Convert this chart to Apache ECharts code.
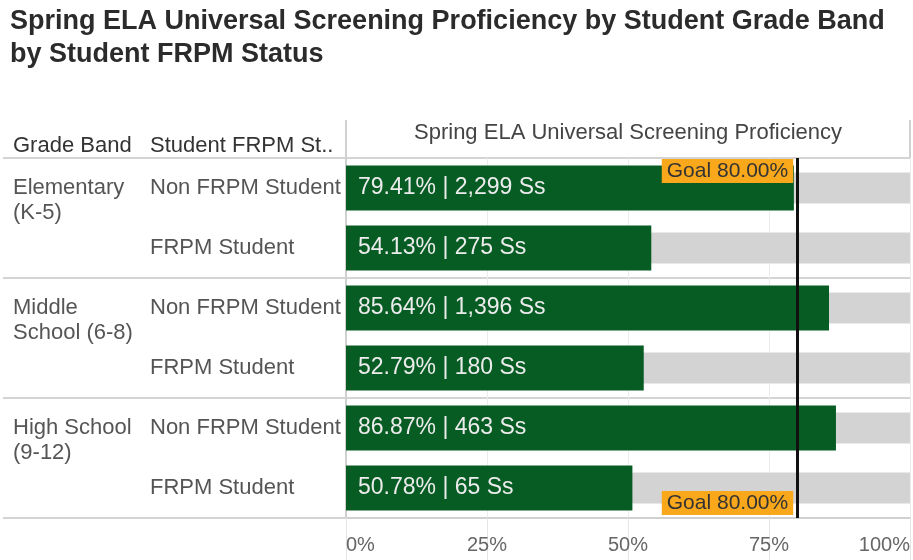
<!DOCTYPE html>
<html>
<head>
<meta charset="utf-8">
<script src="https://cdn.jsdelivr.net/npm/echarts@6/dist/echarts.min.js"></script>
<style>
  html, body { margin: 0; padding: 0; background: #fff; }
  #main { width: 913px; height: 560px; }
</style>
</head>
<body>
<div id="main"></div>
<script>
// data
var gradeBands = ['Elementary\n(K-5)', 'Middle\nSchool (6-8)', 'High School\n(9-12)'];
var rowStatus = ['Non FRPM Student', 'FRPM Student', 'Non FRPM Student', 'FRPM Student', 'Non FRPM Student', 'FRPM Student'];
var proficiency = [79.41, 54.13, 85.64, 52.79, 86.87, 50.78];
var studentCounts = [2299, 275, 1396, 180, 463, 65];
var trackMax = [100, 100, 100, 100, 100, 100];
var goal = 80;
var xTicks = [0, 25, 50, 75, 100];

var rowKeys = rowStatus.map(function (s, i) { return 'r' + i; });
var font = "'Liberation Sans', Arial, sans-serif";

var myChart = echarts.init(document.getElementById('main'));
myChart.setOption({
    animation: false,
    textStyle: { fontFamily: font },
    title: [
        {
            text: 'Spring ELA Universal Screening Proficiency by Student Grade Band\nby Student FRPM Status',
            left: 10, top: 5, padding: 0,
            textStyle: { fontSize: 27, fontWeight: 'bold', color: '#2b2b2b', lineHeight: 33, fontFamily: font }
        },
        {
            text: 'Grade Band', left: 13, top: 134, padding: 0,
            textStyle: { fontSize: 22, fontWeight: 'normal', color: '#333', lineHeight: 24, fontFamily: font }
        },
        {
            text: 'Student FRPM St..', left: 150, top: 134, padding: 0,
            textStyle: { fontSize: 22, fontWeight: 'normal', color: '#333', lineHeight: 24, fontFamily: font }
        }
    ],
    grid: { left: 346, right: 3, top: 158, bottom: 42, containLabel: false, outerBoundsMode: 'none' },
    xAxis: [
        {
            type: 'value', position: 'bottom', min: xTicks[0], max: xTicks[xTicks.length - 1], interval: 25,
            axisLine: { show: true, lineStyle: { color: '#d0d0d0', width: 2 } },
            axisTick: { show: true, length: 42, lineStyle: { color: '#e6e6e6', width: 1 } },
            splitLine: { show: true, lineStyle: { color: '#ececec', width: 1 } },
            axisLabel: {
                formatter: '{value}%', fontSize: 20, color: '#666', margin: 17,
                alignMinLabel: 'left', alignMaxLabel: 'right'
            }
        },
        {
            type: 'value', position: 'top', min: 0, max: 100, interval: 100,
            name: 'Spring ELA Universal Screening Proficiency',
            nameLocation: 'middle', nameGap: 14,
            nameTextStyle: { fontSize: 22, color: '#444', fontFamily: font },
            axisLine: { show: false },
            axisTick: { show: true, length: 38, lineStyle: { color: '#d0d0d0', width: 2 } },
            axisLabel: { show: false },
            splitLine: { show: false }
        }
    ],
    yAxis: [
        {
            // student FRPM status column
            type: 'category', position: 'left', inverse: true, data: rowKeys,
            axisLine: { show: true, lineStyle: { color: '#d0d0d0', width: 2 } },
            axisTick: { show: false },
            axisLabel: {
                interval: 0, align: 'left', margin: 196, fontSize: 22, color: '#555',
                formatter: function (v, i) { return rowStatus[i]; }
            }
        },
        {
            // grey track
            type: 'category', position: 'left', inverse: true, data: rowKeys, show: false
        },
        {
            // grade band column
            type: 'category', position: 'left', inverse: true, data: rowKeys,
            axisLine: { show: false }, axisTick: { show: false },
            axisLabel: {
                interval: 0, align: 'left', margin: 333, fontSize: 22, color: '#555', lineHeight: 25,
                formatter: function (v, i) { return i % 2 === 0 ? '\n' + gradeBands[i / 2] : ''; }
            }
        },
        {
            // group separators
            type: 'category', position: 'left', inverse: true, data: gradeBands,
            axisLine: { show: false },
            axisLabel: { show: false },
            axisTick: { show: true, length: 343, lineStyle: { color: '#d4d4d4', width: 2 } },
            splitLine: { show: true, lineStyle: { color: '#d4d4d4', width: 2 } }
        }
    ],
    series: [
        {
            name: 'track',
            type: 'bar',
            xAxisIndex: 0,
            yAxisIndex: 1,
            data: trackMax,
            barWidth: 31,
            itemStyle: { color: '#d3d3d3' },
            silent: true,
            z: 1
        },
        {
            name: 'Proficiency',
            type: 'bar',
            xAxisIndex: 0,
            yAxisIndex: 0,
            data: proficiency,
            barWidth: 45,
            itemStyle: { color: '#065c23' },
            z: 3,
            label: {
                show: true, position: 'insideLeft', distance: 12,
                fontSize: 23, color: '#ececec',
                formatter: function (p) {
                    return p.value.toFixed(2) + '% | ' + studentCounts[p.dataIndex].toLocaleString('en-US') + ' Ss';
                }
            },
            markLine: {
                silent: true, symbol: 'none',
                label: { show: false },
                lineStyle: { color: '#111', width: 3, type: 'solid' },
                data: [{ xAxis: goal }]
            },
            markPoint: {
                silent: true,
                symbol: 'rect', symbolSize: 0,
                label: {
                    show: true, position: 'left', distance: 4,
                    fontSize: 21, color: '#333', backgroundColor: '#f9a81b', padding: [2, 5, 1, 5],
                    formatter: 'Goal ' + goal.toFixed(2) + '%'
                },
                data: [
                    { coord: [goal, rowKeys[0]], label: { offset: [0, -17] } },
                    { coord: [goal, rowKeys[rowKeys.length - 1]], label: { offset: [0, 15] } }
                ]
            }
        }
    ]
});
</script>
</body>
</html>
